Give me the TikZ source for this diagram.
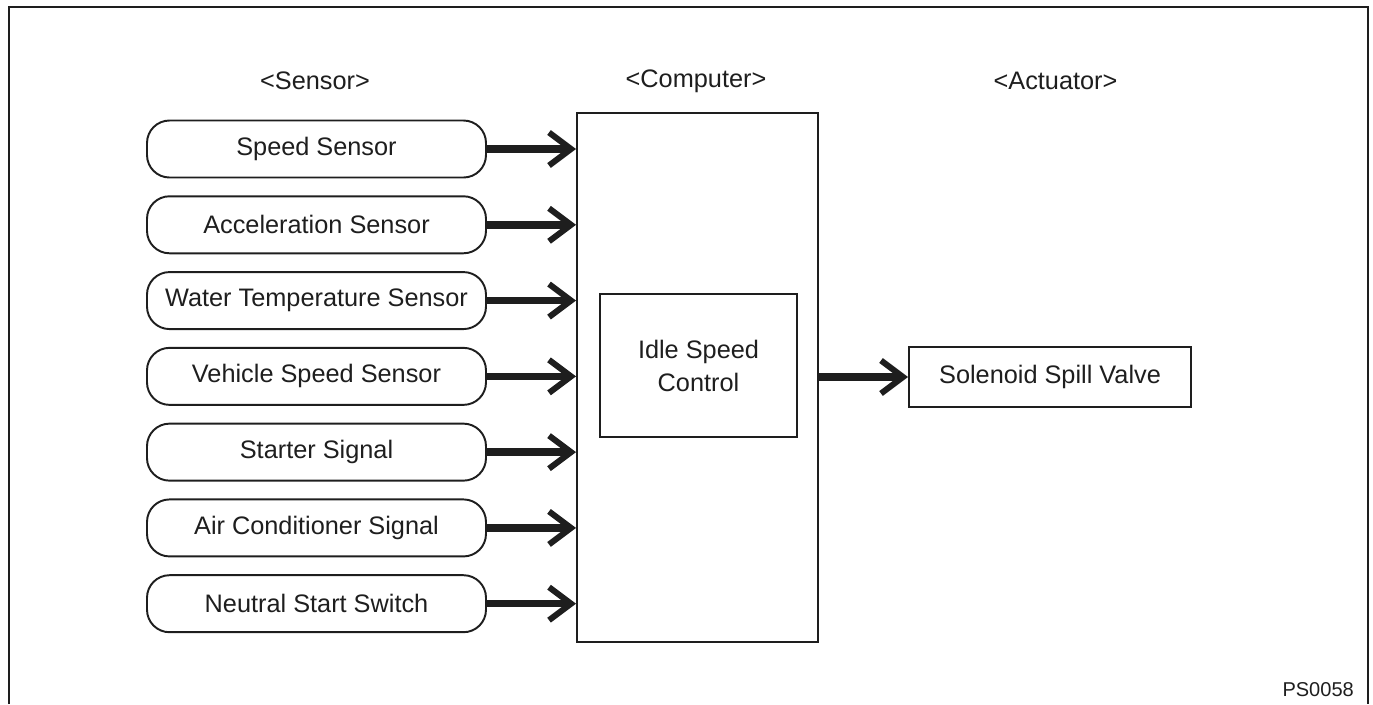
\documentclass[tikz,border=0pt]{standalone}
\usepackage{fontspec}
\setmainfont{Liberation Sans}
\usepackage{xcolor}
\definecolor{ink}{RGB}{30,30,30}
\usepackage{tikz}
\usetikzlibrary{arrows.meta,positioning,calc}

\begin{document}
\begin{tikzpicture}[
  node distance=0.337cm and 1.8cm,
  hdr/.style={font=\fontsize{14.4}{18.8}\selectfont,text=ink},
  sbox/.style={rectangle,draw=ink,line width=1.1pt,rounded corners=0.45cm,minimum width=6.78cm,minimum height=1.14cm,font=\fontsize{14.4}{18.8}\selectfont,text=ink},
  cbox/.style={rectangle,draw=ink,line width=1.1pt,minimum width=4.82cm,minimum height=10.58cm},
  ibox/.style={rectangle,draw=ink,line width=1.1pt,minimum width=3.94cm,minimum height=2.86cm,align=center,font=\fontsize{14.4}{18.8}\selectfont,text=ink},
  abox/.style={rectangle,draw=ink,line width=1.1pt,minimum width=5.64cm,minimum height=1.2cm,font=\fontsize{14.4}{18.8}\selectfont,text=ink},
  arrow/.style={-{Straight Barb[length=0.44cm,width=0.66cm,line width=0.12cm]},line width=0.15cm,draw=ink}
]
  \useasboundingbox (0,0) rectangle (27.46,-14.08);
  % === Frame ===
  \draw[ink,line width=1.3pt] (0.18,-14.08) -- (0.18,-0.14) -- (27.36,-0.14) -- (27.36,-14.08);

  % === Headers ===
  \node[hdr] (hs) at (6.30,-1.62) {<Sensor>};
  \node[hdr] (hc) at (13.92,-1.62) {<Computer>};
  \node[hdr] (ha) at (21.11,-1.62) {<Actuator>};

  % === Sensor Layer ===
  \node[sbox] (s1) at (6.33,-2.98) {Speed Sensor};
  \node[sbox,below=of s1] (s2) {Acceleration Sensor};
  \node[sbox,below=of s2] (s3) {Water Temperature Sensor};
  \node[sbox,below=of s3] (s4) {Vehicle Speed Sensor};
  \node[sbox,below=of s4] (s5) {Starter Signal};
  \node[sbox,below=of s5] (s6) {Air Conditioner Signal};
  \node[sbox,below=of s6] (s7) {Neutral Start Switch};

  % === Computer ===
  \node[cbox] (comp) at (13.95,-7.55) {};
  \node[ibox] (idle) at (13.97,-7.31) {Idle Speed\\Control};

  % === Actuator ===
  \node[abox] (valve) at (21.0,-7.54) {Solenoid Spill Valve};

  % Sensor inputs
  \foreach \i in {1,...,7}
    \draw[arrow] (s\i.east) -- (s\i.east -| comp.west);
  % Output
  \draw[arrow] (comp.east |- valve.west) -- (valve.west);

  \node[font=\fontsize{11.4}{13}\selectfont,text=ink,anchor=base east] (code) at (27.2,-13.92) {PS0058};
\end{tikzpicture}
\end{document}
